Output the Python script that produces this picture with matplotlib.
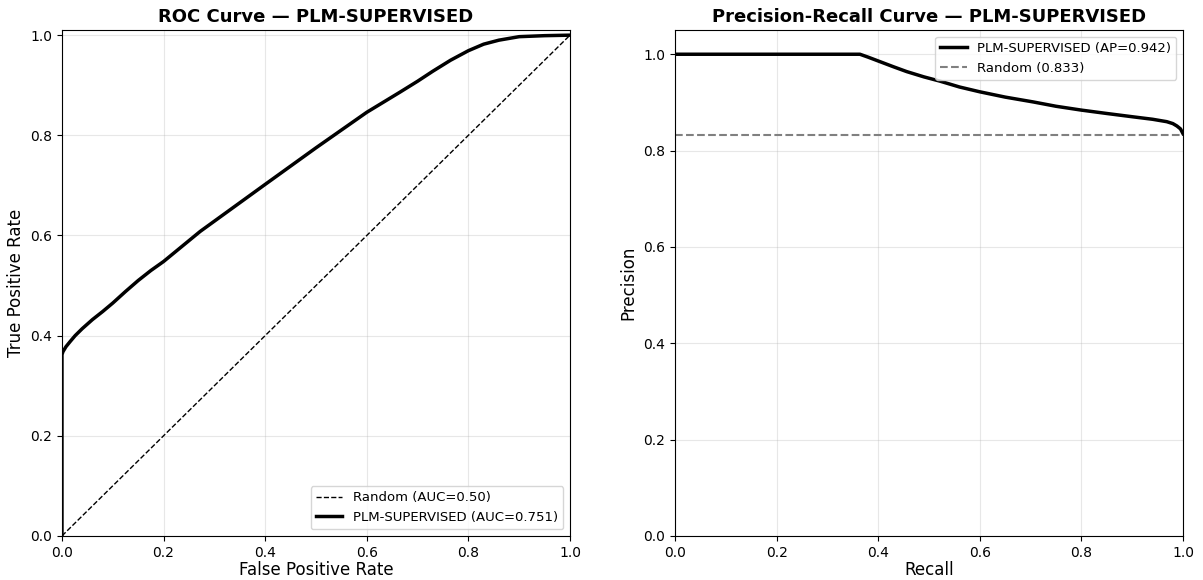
import numpy as np
import matplotlib
matplotlib.use("Agg")
import matplotlib.pyplot as plt

# ROC curve values
fpr = [0.0, 0.0, 0.002, 0.008, 0.016, 0.026, 0.04, 0.06, 0.08, 0.1, 0.125,
       0.15, 0.175, 0.2, 0.272, 0.4, 0.5, 0.6, 0.665, 0.7, 0.73, 0.765, 0.8,
       0.83, 0.86, 0.9, 0.95, 1.0]
tpr = [0.0, 0.362, 0.368, 0.378, 0.388, 0.4, 0.414, 0.432, 0.448, 0.465, 0.488,
       0.51, 0.53, 0.548, 0.608, 0.702, 0.775, 0.846, 0.886, 0.908, 0.928, 0.95, 0.969,
       0.982, 0.99, 0.997, 0.999, 1.0]
roc_auc = 0.751

# precision-recall values
recall = [0.0, 0.2, 0.364, 0.38, 0.4, 0.43, 0.456, 0.49, 0.522, 0.56, 0.6,
          0.65, 0.705, 0.75, 0.8, 0.85, 0.902, 0.94, 0.968, 0.98, 0.988, 0.995, 1.0]
precision = [1.0, 1.0, 1.0, 0.994, 0.986, 0.974, 0.964, 0.953, 0.944, 0.932, 0.922,
             0.911, 0.901, 0.892, 0.884, 0.877, 0.870, 0.865, 0.860, 0.856, 0.851,
             0.845, 0.835]
ap = 0.942
baseline = 0.833
model = "PLM-SUPERVISED"

fig, (ax1, ax2) = plt.subplots(1, 2, figsize=(12.03, 5.8), dpi=100)
fig.subplots_adjust(left=0.0515, right=0.9834, bottom=0.076, top=0.948, wspace=0.2067)

ax1.plot([0, 1], [0, 1], "k--", lw=1, label="Random (AUC=0.50)")
ax1.plot(fpr, tpr, color="black", lw=2.5, label=f"{model} (AUC={roc_auc:.3f})")
ax1.set_xlim(0, 1)
ax1.set_ylim(0, 1.01)
ax1.set_xlabel("False Positive Rate", fontsize=12, labelpad=1)
ax1.set_ylabel("True Positive Rate", fontsize=12)
ax1.set_title(f"ROC Curve — {model}", fontsize=13, fontweight="bold")
ax1.legend(loc="lower right", fontsize=9.5)
ax1.grid(True, alpha=0.3)

ax2.plot(recall, precision, color="black", lw=2.5, label=f"{model} (AP={ap:.3f})")
ax2.axhline(baseline, color="gray", ls="--", lw=1.5, label=f"Random ({baseline:.3f})")
ax2.set_xlim(0, 1)
ax2.set_ylim(0, 1.05)
ax2.set_xlabel("Recall", fontsize=12, labelpad=1)
ax2.set_ylabel("Precision", fontsize=12)
ax2.set_title(f"Precision-Recall Curve — {model}", fontsize=13, fontweight="bold")
ax2.legend(loc="upper right", fontsize=9.5)
ax2.grid(True, alpha=0.3)

fig.savefig("out.png", dpi=100)
